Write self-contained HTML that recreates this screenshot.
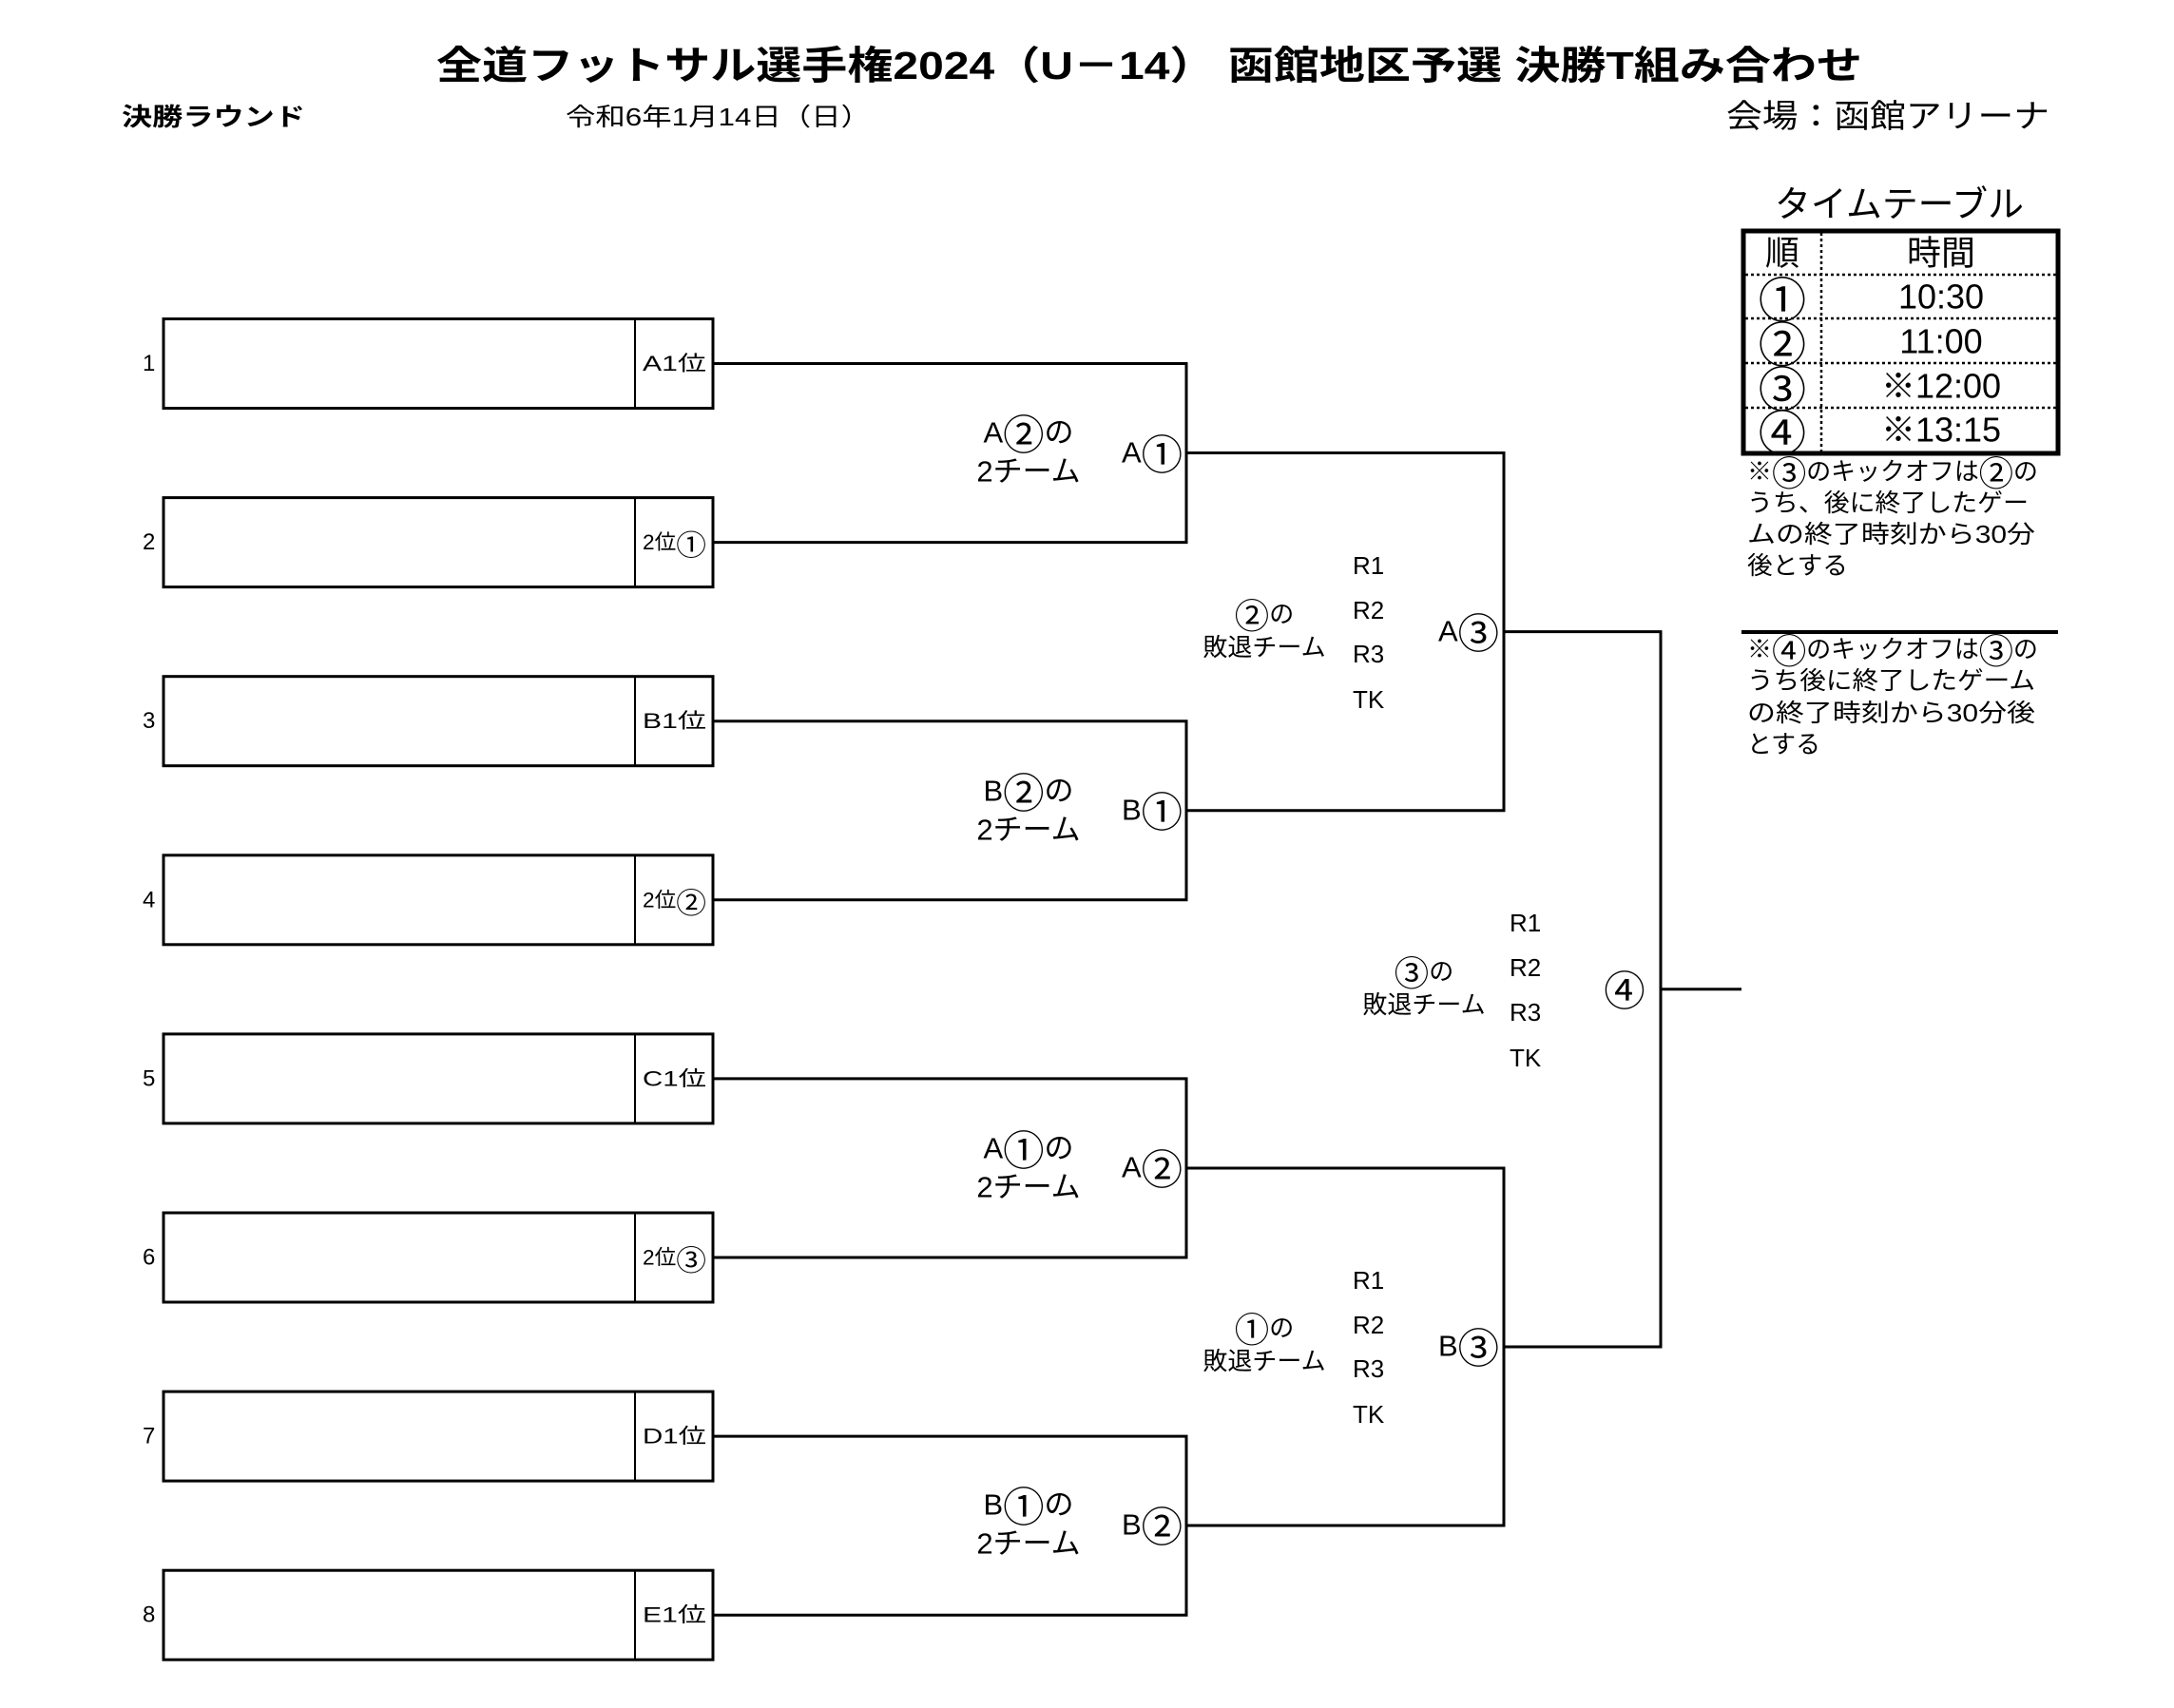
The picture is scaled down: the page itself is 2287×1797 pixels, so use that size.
<!DOCTYPE html>
<html><head><meta charset="utf-8"><style>
html,body{margin:0;padding:0;background:#fff;}
svg{display:block;}
text{font-family:"Liberation Sans","Noto Sans CJK JP",sans-serif;fill:#000;}
.c{font-family:"Noto Sans CJK JP",sans-serif;font-size:1.4em;}
</style></head><body>
<svg width="2287" height="1797" viewBox="0 0 2287 1797" xmlns="http://www.w3.org/2000/svg">
<text x="459" y="69" font-size="41" font-weight="bold" dominant-baseline="central" textLength="1500" lengthAdjust="spacingAndGlyphs">全道フットサル選手権2024（U－14）  函館地区予選 決勝T組み合わせ</text>
<text x="128" y="123" font-size="26" font-weight="bold" dominant-baseline="central" textLength="193" lengthAdjust="spacingAndGlyphs">決勝ラウンド</text>
<text x="595" y="123" font-size="26" dominant-baseline="central" textLength="321" lengthAdjust="spacingAndGlyphs">令和6年1月14日（日）</text>
<text x="1816" y="123" font-size="34" dominant-baseline="central" textLength="340" lengthAdjust="spacingAndGlyphs">会場：函館アリーナ</text>

<g stroke="#000" fill="none">
<g stroke-width="3">
<rect x="172" y="335.5" width="578" height="94"/>
<rect x="172" y="523.6" width="578" height="94"/>
<rect x="172" y="711.7" width="578" height="94"/>
<rect x="172" y="899.8" width="578" height="94"/>
<rect x="172" y="1087.9" width="578" height="94"/>
<rect x="172" y="1276" width="578" height="94"/>
<rect x="172" y="1464.1" width="578" height="94"/>
<rect x="172" y="1652.2" width="578" height="94"/>
</g>
<g stroke-width="2">
<line x1="668" y1="335.5" x2="668" y2="429.5"/>
<line x1="668" y1="523.6" x2="668" y2="617.6"/>
<line x1="668" y1="711.7" x2="668" y2="805.7"/>
<line x1="668" y1="899.8" x2="668" y2="993.8"/>
<line x1="668" y1="1087.9" x2="668" y2="1181.9"/>
<line x1="668" y1="1276" x2="668" y2="1370"/>
<line x1="668" y1="1464.1" x2="668" y2="1558.1"/>
<line x1="668" y1="1652.2" x2="668" y2="1746.2"/>
</g>
<g stroke-width="3">
<polyline points="750,382.5 1248,382.5 1248,570.6 750,570.6"/>
<polyline points="750,758.7 1248,758.7 1248,946.8 750,946.8"/>
<polyline points="750,1134.9 1248,1134.9 1248,1323 750,1323"/>
<polyline points="750,1511.1 1248,1511.1 1248,1699.2 750,1699.2"/>
<polyline points="1248,476.5 1582,476.5 1582,852.7 1248,852.7"/>
<polyline points="1248,1229 1582,1229 1582,1605 1248,1605"/>
<polyline points="1582,664.6 1747,664.6 1747,1417 1582,1417"/>
<line x1="1747" y1="1040.8" x2="1832" y2="1040.8"/>
</g>
<rect x="1834" y="243" width="331" height="234" stroke-width="5"/>
<g stroke-width="2.5" stroke-dasharray="3,3">
<line x1="1836" y1="289" x2="2163" y2="289"/>
<line x1="1836" y1="335" x2="2163" y2="335"/>
<line x1="1836" y1="382" x2="2163" y2="382"/>
<line x1="1836" y1="429" x2="2163" y2="429"/>
<line x1="1916" y1="245" x2="1916" y2="475"/>
</g>
<line x1="1832" y1="665" x2="2165" y2="665" stroke-width="4"/>
</g>

<g font-size="24" dominant-baseline="central">
<text x="150" y="382.5">1</text><text x="150" y="570.6">2</text><text x="150" y="758.7">3</text><text x="150" y="946.8">4</text>
<text x="150" y="1134.9">5</text><text x="150" y="1323">6</text><text x="150" y="1511.1">7</text><text x="150" y="1699.2">8</text>
</g>
<g font-size="22" dominant-baseline="central">
<text x="676" y="382.5" textLength="67" lengthAdjust="spacingAndGlyphs">A1位</text>
<text x="676" y="570.6" textLength="67" lengthAdjust="spacingAndGlyphs">2位<tspan class="c">①</tspan></text>
<text x="676" y="758.7" textLength="67" lengthAdjust="spacingAndGlyphs">B1位</text>
<text x="676" y="946.8" textLength="67" lengthAdjust="spacingAndGlyphs">2位<tspan class="c">②</tspan></text>
<text x="676" y="1134.9" textLength="67" lengthAdjust="spacingAndGlyphs">C1位</text>
<text x="676" y="1323" textLength="67" lengthAdjust="spacingAndGlyphs">2位<tspan class="c">③</tspan></text>
<text x="676" y="1511.1" textLength="67" lengthAdjust="spacingAndGlyphs">D1位</text>
<text x="676" y="1699.2" textLength="67" lengthAdjust="spacingAndGlyphs">E1位</text>
</g>

<g font-size="31" text-anchor="middle" dominant-baseline="central">
<text x="1082" y="455">A<tspan class="c">②</tspan>の</text><text x="1082" y="496">2チーム</text><text x="1212" y="476">A<tspan class="c">①</tspan></text>
<text x="1082" y="832">B<tspan class="c">②</tspan>の</text><text x="1082" y="873">2チーム</text><text x="1212" y="852">B<tspan class="c">①</tspan></text>
<text x="1082" y="1208">A<tspan class="c">①</tspan>の</text><text x="1082" y="1249">2チーム</text><text x="1212" y="1228">A<tspan class="c">②</tspan></text>
<text x="1082" y="1583">B<tspan class="c">①</tspan>の</text><text x="1082" y="1624">2チーム</text><text x="1212" y="1604">B<tspan class="c">②</tspan></text>
<text x="1545" y="664">A<tspan class="c">③</tspan></text><text x="1545" y="1416">B<tspan class="c">③</tspan></text><text x="1709" y="1040"><tspan class="c">④</tspan></text>
</g>
<g font-size="26" text-anchor="middle" dominant-baseline="central">
<text x="1330" y="646"><tspan class="c">②</tspan>の</text><text x="1330" y="681">敗退チーム</text>
<text x="1498" y="1022"><tspan class="c">③</tspan>の</text><text x="1498" y="1057">敗退チーム</text>
<text x="1330" y="1397"><tspan class="c">①</tspan>の</text><text x="1330" y="1432">敗退チーム</text>
</g>
<g font-size="26" dominant-baseline="central">
<text x="1423" y="595">R1</text><text x="1423" y="642">R2</text><text x="1423" y="688">R3</text><text x="1423" y="736">TK</text>
<text x="1588" y="971">R1</text><text x="1588" y="1018">R2</text><text x="1588" y="1065">R3</text><text x="1588" y="1113">TK</text>
<text x="1423" y="1347">R1</text><text x="1423" y="1394">R2</text><text x="1423" y="1440">R3</text><text x="1423" y="1488">TK</text>
</g>

<text x="1867" y="216" font-size="38" dominant-baseline="central" textLength="262" lengthAdjust="spacingAndGlyphs">タイムテーブル</text>
<g font-size="36" text-anchor="middle" dominant-baseline="central">
<text x="1875" y="266">順</text><text x="2042" y="266">時間</text>
<text x="1875" y="312"><tspan class="c">①</tspan></text><text x="2042" y="312">10:30</text>
<text x="1875" y="359"><tspan class="c">②</tspan></text><text x="2042" y="359">11:00</text>
<text x="1875" y="406"><tspan class="c">③</tspan></text><text x="2042" y="406">※12:00</text>
<text x="1875" y="452"><tspan class="c">④</tspan></text><text x="2042" y="452">※13:15</text>
</g>
<g font-size="26" dominant-baseline="central">
<text x="1838" y="496" textLength="306" lengthAdjust="spacingAndGlyphs">※<tspan class="c">③</tspan>のキックオフは<tspan class="c">②</tspan>の</text>
<text x="1838" y="529" textLength="296" lengthAdjust="spacingAndGlyphs">うち、後に終了したゲー</text>
<text x="1838" y="562" textLength="303" lengthAdjust="spacingAndGlyphs">ムの終了時刻から30分</text>
<text x="1838" y="595" textLength="106" lengthAdjust="spacingAndGlyphs">後とする</text>
<text x="1838" y="683" textLength="306" lengthAdjust="spacingAndGlyphs">※<tspan class="c">④</tspan>のキックオフは<tspan class="c">③</tspan>の</text>
<text x="1838" y="716" textLength="303" lengthAdjust="spacingAndGlyphs">うち後に終了したゲーム</text>
<text x="1838" y="750" textLength="303" lengthAdjust="spacingAndGlyphs">の終了時刻から30分後</text>
<text x="1838" y="783" textLength="77" lengthAdjust="spacingAndGlyphs">とする</text>
</g>
</svg>
</body></html>
